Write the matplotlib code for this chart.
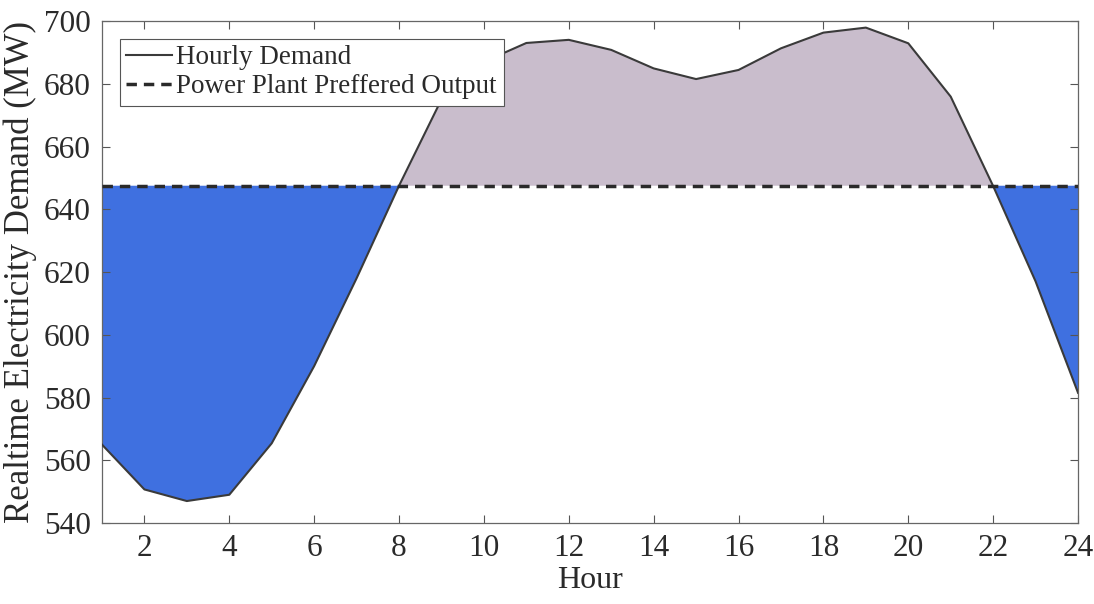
import numpy as np
import matplotlib
matplotlib.use("Agg")
import matplotlib.pyplot as plt

plt.rcParams['font.family'] = ['Liberation Serif', 'DejaVu Serif']
plt.rcParams['mathtext.fontset'] = 'stix'

# Hourly demand over one day (MW)
hours = list(range(1, 25))
demand = [565, 550.7, 547, 549, 565.4, 590, 618, 647.5, 675, 687, 693, 694,
          690.8, 684.9, 681.5, 684.4, 691.3, 696.3, 697.9, 692.9, 675.9, 647.4,
          617, 581.5]
preferred_output = 647.5

x = np.array(hours, dtype=float)
y = np.array(demand, dtype=float)
p = np.full_like(y, preferred_output)

fig = plt.figure(figsize=(10.94, 6.04), dpi=100)
ax = fig.add_axes([0.0932, 0.1341, 0.8922, 0.8311])

surplus_color = '#c9bdcc'
deficit_color = '#3f70e0'

ax.fill_between(x, y, p, where=y >= p, interpolate=True,
                facecolor=surplus_color, edgecolor='none', zorder=1)
ax.fill_between(x, y, p, where=y <= p, interpolate=True,
                facecolor=deficit_color, edgecolor='none', zorder=1)

ax.plot(x, y, color='#3a3a3a', lw=1.5, label='Hourly Demand', zorder=3)
ax.plot(x, p, color='#2a2a2a', lw=2.5, linestyle=(0, (3, 2)),
        label='Power Plant Preffered Output', zorder=4)

ax.set_xlim(1, 24)
ax.set_ylim(540, 700)
ax.set_xticks(range(2, 25, 2))
ax.set_yticks(range(540, 701, 20))

ax.tick_params(axis='both', direction='in', length=6, width=0.8,
               top=True, right=True, labelsize=22.5, colors='#555555',
               labelcolor='#2a2a2a', pad=8)
for s in ax.spines.values():
    s.set_color('#666666')
    s.set_linewidth(0.9)

ax.set_xlabel('Hour', fontsize=23, color='#2a2a2a', labelpad=2)
ax.set_ylabel('Realtime Electricity Demand (MW)', fontsize=25, color='#2a2a2a',
              labelpad=5)

leg = ax.legend(loc='upper left', bbox_to_anchor=(0.018, 0.965), fontsize=19.5,
                frameon=True, fancybox=False, framealpha=1.0,
                edgecolor='#555555',
                handlelength=1.7, handletextpad=0.15, borderpad=0.25,
                labelspacing=0.15, borderaxespad=0.0)
leg.get_frame().set_linewidth(0.8)
leg.set_zorder(10)
for t in leg.get_texts():
    t.set_color('#2a2a2a')

fig.savefig('out.png', dpi=100)
